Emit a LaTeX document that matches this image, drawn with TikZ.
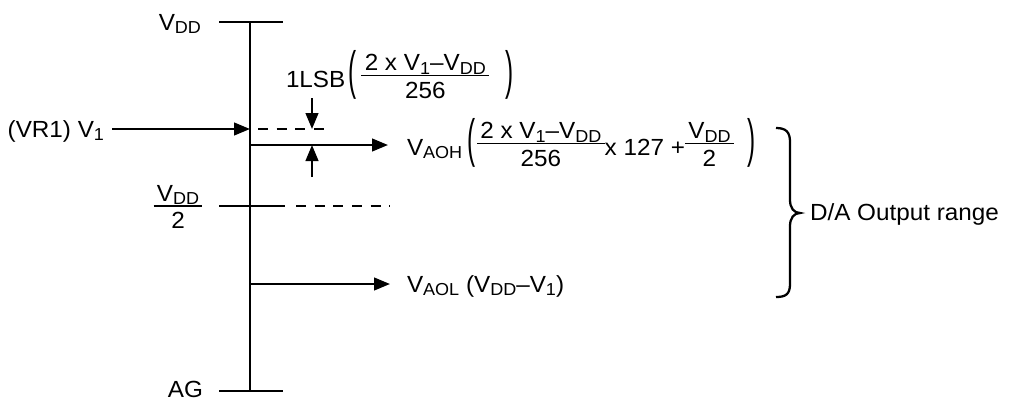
\documentclass[tikz,border=0pt]{standalone}
\usepackage{fontspec}
\setmainfont{Liberation Sans}[FakeStretch=1.04]
\usepackage{graphicx}
\usetikzlibrary{arrows.meta}
\newlength\barh \setlength\barh{8.8pt}
\newlength\frw
\newsavebox\frnum \newsavebox\frden
\newcommand\lo[1]{\raisebox{-2.6pt}{\fontsize{13}{13}\selectfont #1}}
\newcommand\fr[2]{%
 \sbox\frnum{#1}\sbox\frden{#2}%
 \setlength\frw{\wd\frnum}%
 \ifdim\wd\frden>\frw \setlength\frw{\wd\frden}\fi
 \addtolength\frw{5pt}%
 \raisebox{\barh}{\rlap{\raisebox{3.5pt}{\makebox[\frw]{\usebox\frnum}}}\rlap{\raisebox{\dimexpr-\ht\frden-5pt\relax}{\makebox[\frw]{\usebox\frden}}}\rule[-0.5pt]{\frw}{1pt}}}
\newcommand\lpar{\raisebox{-1.4pt}{\scalebox{1}[2.25]{(}}}
\newcommand\rpar{\raisebox{-1.4pt}{\scalebox{1}[2.25]{)}}}
\begin{document}
\begin{tikzpicture}[x=0.75pt,y=-0.75pt, font=\fontsize{17.5}{21}\selectfont,
 lbl/.style={inner sep=0pt, outer sep=0pt},
 ln/.style={line width=1.7pt},
 arr/.style={line width=1.7pt, -{Triangle[length=12pt,width=9.5pt]}},
 dsh/.style={line width=1.7pt, dash pattern=on 7.5pt off 6.5pt}]
\useasboundingbox (0,0) rectangle (1010,400);
% coordinates
\coordinate (vt) at (250,22); \coordinate (vb) at (250,391);
\coordinate (tl) at (219,22); \coordinate (tr) at (283,22);
\coordinate (bl) at (219,391); \coordinate (br) at (283,391);
\coordinate (ml) at (219,206); \coordinate (mr) at (285,206);
\coordinate (md1) at (296,206); \coordinate (md2) at (390,206);
\coordinate (v1s) at (112,129); \coordinate (v1e) at (250,129);
\coordinate (d1s) at (258,129); \coordinate (d1e) at (327,129);
\coordinate (dn1) at (312,98); \coordinate (dn2) at (312,129);
\coordinate (up1) at (312,177); \coordinate (up2) at (312,145);
\coordinate (ohs) at (250,145); \coordinate (ohe) at (388,145);
\coordinate (ols) at (250,284); \coordinate (ole) at (390,284);
% lines
\draw[ln] (vt) -- (vb);
\draw[ln] (tl) -- (tr);
\draw[ln] (bl) -- (br);
\draw[ln] (ml) -- (mr);
\draw[dsh] (md1) -- (md2);
\draw[arr] (v1s) -- (v1e);
\draw[dsh] (d1s) -- (d1e);
\draw[arr] (dn1) -- (dn2);
\draw[arr] (up1) -- (up2);
\draw[arr] (ohs) -- (ohe);
\draw[arr] (ols) -- (ole);
% brace
\draw[line width=1.7pt] (776,128) .. controls (786,128) and (790,132) .. (790,142) -- (790,200)
  .. controls (790,208) and (794,213) .. (800,213)
  .. controls (794,213) and (790,218) .. (790,226) -- (790,284)
  .. controls (790,294) and (786,297) .. (776,297);
% labels
\node[lbl, anchor=base east] (vdd) at (201,30) {V\lo{DD}};
\node[lbl, anchor=base east] (vr1) at (104,137) {(VR1) V\lo{1}};
\node[lbl, anchor=base] (half) at (178,217.7) {\fr{V\lo{DD}}{2}};
\node[lbl, anchor=base east] (ag) at (203,397) {AG};
\node[lbl, anchor=base west] (lsb) at (286,87) {1LSB\hspace{2pt}\lpar\hspace{4pt}\fr{2 x V\lo{1}–V\lo{DD}}{256}\hspace{12pt}\rpar};
\node[lbl, anchor=base west] (aoh) at (407,155) {V\lo{AOH}\hspace{4pt}\lpar\hspace{1pt}\fr{2 x V\lo{1}–V\lo{DD}}{256}x 127 +\fr{V\lo{DD}}{2}\hspace{10pt}\rpar};
\node[lbl, anchor=base west] (aol) at (407,292) {V\lo{AOL} (V\lo{DD}–V\lo{1})};
\node[lbl, anchor=west] (range) at (810,214) {D/A Output range};
\end{tikzpicture}
\end{document}
